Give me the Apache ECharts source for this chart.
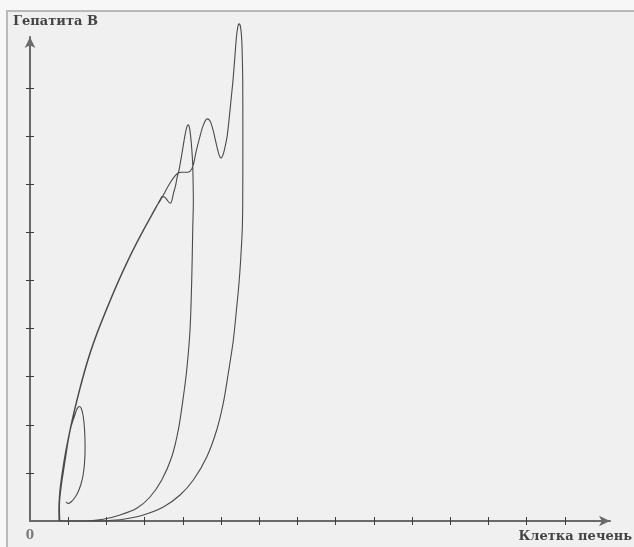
<!DOCTYPE html>
<html>
<head>
<meta charset="utf-8">
<script src="https://cdn.jsdelivr.net/npm/echarts@6/dist/echarts.min.js"></script>
<style>
  html, body { margin: 0; padding: 0; background: #f7f7f7; }
  #frame { position: absolute; left: 6px; top: 10px; width: 628px; height: 537px;
           background: #f0f0f0; border-left: 2px solid #b9b9b9; border-top: 2px solid #b9b9b9; box-sizing: border-box; }
  #chart { position: absolute; left: 0; top: 0; width: 634px; height: 547px; }
</style>
</head>
<body>
<div id="frame"></div>
<div id="chart"></div>
<script>
// Axis titles
const yTitle = 'Гепатита B';
const xTitle = 'Клетка печень';

// Tick positions (axis units)
const xTickValues = [1,2,3,4,5,6,7,8,9,10,11,12,13,14];
const yTickValues = [1,2,3,4,5,6,7,8,9];
const xLabelValues = [0];

// Trajectory: [liver cells, hepatitis B], in drawing order
const cycle1 = [
  [0.759,0],[0.754,0.229],[0.767,0.499],[0.798,0.748],[0.853,1.060],[0.916,1.372],[0.992,1.684],
  [1.073,1.996],[1.162,2.308],[1.259,2.620],[1.361,2.931],[1.471,3.243],[1.594,3.555],[1.733,3.867],
  [1.885,4.179],[2.045,4.491],[2.209,4.802],[2.382,5.114],[2.565,5.426],[2.759,5.738],[2.966,6.050],
  [3.183,6.362],[3.298,6.528],[3.403,6.653],[3.534,6.840],[3.665,7.027],
  [3.796,7.173],[3.874,7.235],[3.979,7.249],[4.110,7.249],[4.188,7.266],[4.267,7.380],[4.346,7.672],
  [4.424,7.921],[4.529,8.212],[4.634,8.358],[4.712,8.316],[4.791,8.129],[4.869,7.859],[4.948,7.609],
  [5.000,7.547],[5.052,7.609],[5.105,7.775],[5.157,7.983],[5.209,8.337],[5.262,8.753],[5.314,9.168],
  [5.366,9.688],[5.406,10.083],[5.445,10.291],[5.471,10.333],[5.510,10.270],[5.542,10.000],
  [5.558,9.584],[5.568,9.168],[5.571,7.921],[5.568,6.674],[5.555,6.050],[5.510,5.385],[5.466,4.906],
  [5.411,4.449],[5.322,3.763],[5.191,3.077],[5.060,2.453],[4.887,1.892],[4.626,1.331],[4.275,0.852],
  [3.927,0.541],[3.490,0.291],[2.966,0.125],[2.442,0.035],[2.008,0.006],[1.571,0],[1.047,0],[0.785,0]
];
const cycle2 = [
  [0.772,0],[0.764,0.229],[0.777,0.499],[0.808,0.748],[0.863,1.060],[0.926,1.372],[1.002,1.684],
  [1.083,1.996],[1.172,2.308],[1.269,2.620],[1.371,2.931],[1.481,3.243],[1.604,3.555],[1.743,3.867],
  [1.895,4.179],[2.055,4.491],[2.219,4.802],[2.392,5.114],[2.575,5.426],[2.769,5.738],[2.976,6.050],
  [3.193,6.362],[3.308,6.528],[3.364,6.622],[3.416,6.694],[3.455,6.742],
  [3.521,6.736],[3.586,6.674],[3.639,6.622],[3.678,6.605],[3.717,6.674],[3.757,6.819],[3.809,6.965],
  [3.848,7.131],[3.901,7.297],[3.953,7.526],[4.005,7.775],[4.058,8.025],[4.110,8.202],[4.144,8.233],
  [4.175,8.170],[4.209,7.963],[4.236,7.713],[4.257,7.443],[4.267,7.131],[4.275,6.674],[4.259,6.050],
  [4.233,5.010],[4.188,3.971],[4.102,3.139],[4.013,2.578],[3.882,1.892],[3.709,1.331],[3.448,0.852],
  [3.141,0.499],[2.793,0.264],[2.356,0.125],[1.919,0.035],[1.571,0.006],[1.047,0],[0.812,0]
];
const cycle3 = [
  [0.785,0],[0.772,0.333],[0.812,0.686],[0.877,1.040],[0.942,1.372],[1.000,1.663],[1.075,1.960],
  [1.160,2.170],[1.215,2.300],[1.257,2.360],[1.296,2.380],[1.348,2.328],[1.395,2.162],[1.429,1.892],
  [1.442,1.538],[1.429,1.227],[1.395,0.977],[1.335,0.769],[1.257,0.603],[1.165,0.478],[1.073,0.395],
  [0.995,0.364],[0.942,0.395]
];
const trajectory = cycle1.concat(cycle2, cycle3);

const chart = echarts.init(document.getElementById('chart'), null, { renderer: 'canvas' });
const axisColor = '#6a6a6a';
const tickColor = '#3c3c3c';
const serifBold = { fontFamily: 'DejaVu Serif', fontWeight: 'bold', fontSize: 13, color: '#444' };

function xAx(inside, main) {
  return {
    type: 'value', min: 0, max: 15.18, interval: 1, position: 'bottom',
    axisLine: { show: main, onZero: false, lineStyle: { color: axisColor, width: 2 },
                symbol: ['none', 'arrow'], symbolSize: [8, 11] },
    axisTick: { show: true, inside: inside, length: 4, customValues: xTickValues,
                lineStyle: { color: tickColor, width: 1 } },
    axisLabel: { show: main, customValues: xLabelValues, margin: 9,
                 fontFamily: 'DejaVu Serif', fontWeight: 'bold', fontSize: 12, color: '#7a7a7a' },
    splitLine: { show: false }
  };
}
function yAx(inside, main) {
  return {
    type: 'value', min: 0, max: 10.06, interval: 1, position: 'left',
    axisLine: { show: main, onZero: false, lineStyle: { color: axisColor, width: 2 },
                symbol: ['none', 'arrow'], symbolSize: [8, 11] },
    axisTick: { show: true, inside: inside, length: 4, customValues: yTickValues,
                lineStyle: { color: tickColor, width: 1 } },
    axisLabel: { show: false },
    splitLine: { show: false }
  };
}

chart.setOption({
  backgroundColor: 'transparent',
  animation: false,
  title: [
    { text: yTitle, left: 13, top: 15, padding: 0, textStyle: serifBold },
    { text: xTitle, right: 2, top: 530, padding: 0, textStyle: serifBold }
  ],
  grid: { left: 30, right: 24, top: 37, bottom: 26, containLabel: false },
  xAxis: [xAx(false, true), xAx(true, false)],
  yAxis: [yAx(false, true), yAx(true, false)],
  series: [{
    type: 'line',
    xAxisIndex: 0, yAxisIndex: 0,
    data: trajectory,
    showSymbol: false,
    smooth: 0.3,
    clip: false,
    lineStyle: { color: '#4a4a4a', width: 1.1 }
  }]
});
</script>
</body>
</html>
